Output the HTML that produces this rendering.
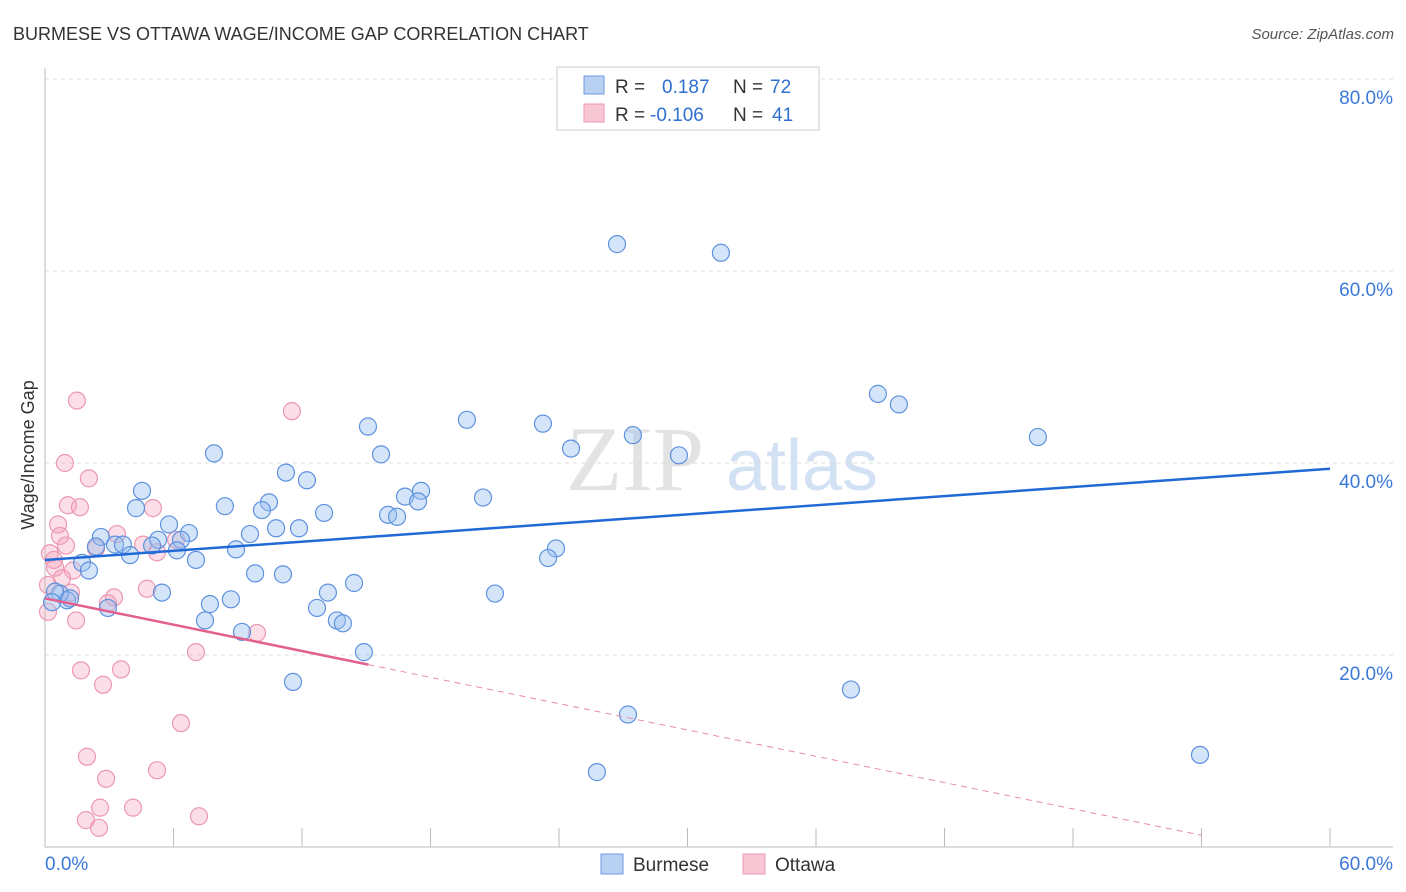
<!DOCTYPE html>
<html><head><meta charset="utf-8"><style>
body{margin:0;background:#fff;font-family:"Liberation Sans",sans-serif}
svg{display:block}
</style></head><body>
<svg id="chart" width="1406" height="892">
<text x="13" y="40" font-size="18" fill="#333">BURMESE VS OTTAWA WAGE/INCOME GAP CORRELATION CHART</text>
<text x="1394" y="39" font-size="15" fill="#555" font-style="italic" text-anchor="end">Source: ZipAtlas.com</text>
<g>
<text x="635" y="490" font-size="92" fill="#ddd" font-family="Liberation Serif,serif" text-anchor="middle" opacity="0.8">ZIP</text>
<text x="802" y="490" font-size="72" fill="#c9daf2" text-anchor="middle" opacity="0.8">atlas</text>
</g>
<g id="grid"></g>
<g id="axes"></g>
<g id="marks"></g>
<text transform="translate(34,455) rotate(-90)" font-size="18" fill="#333" text-anchor="middle">Wage/Income Gap</text>
<g>
<rect x="557" y="67" width="262" height="63" fill="#fff" stroke="#ccc"/>
<rect x="584" y="76" width="20" height="18" fill="#b8d1f3" stroke="#6d9be0"/>
<rect x="584" y="104" width="20" height="18" fill="#f8c6d5" stroke="#ec9ab3"/>
<text x="615" y="93" font-size="19" fill="#333">R = <tspan fill="#2f6fd0" x="662">0.187</tspan><tspan x="733" fill="#333">N =</tspan><tspan x="770" fill="#2f6fd0">72</tspan></text>
<text x="615" y="121" font-size="19" fill="#333">R = <tspan fill="#2f6fd0" x="650">-0.106</tspan><tspan x="733" fill="#333">N =</tspan><tspan x="772" fill="#2f6fd0">41</tspan></text>
</g>
<g>
<rect x="601" y="854" width="22" height="20" fill="#b8d1f3" stroke="#6d9be0"/>
<text x="633" y="871" font-size="19" fill="#333">Burmese</text>
<rect x="743" y="854" width="22" height="20" fill="#f8c6d5" stroke="#ec9ab3"/>
<text x="775" y="871" font-size="19" fill="#333">Ottawa</text>
</g>
</svg>
<script>
const yTicks=[20,40,60,80];
const xTickLabels=["0.0%","60.0%"];
const blueX=[26.71,31.56,38.89,39.87,46.36,19.70,23.25,15.08,27.45,24.56,29.60,7.89,15.69,11.25,12.23,4.53,17.56,16.81,20.45,17.42,10.46,8.40,4.25,10.13,16.02,13.03,16.44,5.79,10.79,11.86,9.57,6.72,2.61,6.35,5.28,5.00,3.27,3.64,8.92,6.16,23.86,2.38,3.97,23.49,7.05,1.73,2.05,9.81,11.11,14.43,5.46,13.21,21.01,8.68,7.70,12.70,2.94,1.03,0.70,0.47,0.33,7.47,13.63,13.91,9.20,14.89,11.58,37.63,27.22,25.77,53.93,1.17];
const blueY=[62.8,61.9,47.2,46.1,42.7,44.5,44.1,43.8,42.9,41.5,40.8,41.0,40.9,39.0,38.2,37.1,37.1,36.5,36.4,36.0,35.9,35.5,35.3,35.1,34.6,34.8,34.4,33.6,33.2,33.2,32.6,32.7,32.3,32.0,32.0,31.4,31.5,31.5,31.0,30.9,31.1,31.3,30.4,30.1,29.9,29.6,28.8,28.5,28.4,27.5,26.5,26.5,26.4,25.8,25.3,24.9,24.9,25.7,26.4,26.6,25.5,23.6,23.6,23.3,22.4,20.3,17.2,16.4,13.8,7.8,9.6,25.9];
const pinkX=[1.49,11.53,0.93,2.05,1.07,1.63,5.04,0.61,0.70,3.36,0.98,0.23,2.38,4.58,5.23,6.12,0.42,0.47,1.31,0.79,4.76,3.22,1.21,2.94,1.45,0.14,7.05,1.68,3.55,2.71,6.35,1.96,2.85,5.23,2.57,4.11,1.91,2.52,7.19,9.90,0.14];
const pinkY=[46.5,45.4,40.0,38.4,35.6,35.4,35.3,33.6,32.4,32.6,31.4,30.6,31.1,31.5,30.7,32.0,29.9,29.1,28.8,28.0,26.9,26.0,26.5,25.4,23.6,24.5,20.3,18.4,18.5,16.9,12.9,9.4,7.1,8.0,4.1,4.1,2.8,2.0,3.2,22.3,27.3];
const blueTrend=[29.9,39.4];
const pinkTrend=[25.9,-0.457];
const NS="http://www.w3.org/2000/svg";
const sx=v=>45+v*1285/60, sy=v=>847-v*9.6;
function mk(tag,attrs,parent){const e=document.createElementNS(NS,tag);for(const k in attrs)e.setAttribute(k,attrs[k]);parent.appendChild(e);return e;}
const grid=document.getElementById('grid'),axes=document.getElementById('axes'),marks=document.getElementById('marks');
yTicks.forEach(t=>{
 const l=mk('line',{x1:45,x2:1393,y1:sy(t),y2:sy(t),stroke:'#ddd','stroke-dasharray':'4,4'},grid);
 
 
 const tx=mk('text',{x:1393,y:sy(t)+25,'font-size':19,fill:'#3b78d8','text-anchor':'end'},axes);
 tx.textContent=t.toFixed(1)+'%';
 
 
});
const ax=mk('line',{x1:45,x2:1393,y1:847,y2:847,stroke:'#bbb'},axes);


const ay=mk('line',{x1:45,x2:45,y1:68,y2:847,stroke:'#bbb'},axes);


for(let i=0;i<=10;i++){const tk=mk('line',{x1:sx(i*6),x2:sx(i*6),y1:828,y2:847,stroke:'#bbb'},axes);
 
 }
[[0,'start',45],[60,'end',1393]].forEach((p,i)=>{const t=mk('text',{x:p[2],y:870,'font-size':19,fill:'#3b78d8','text-anchor':p[1]},axes);t.textContent=xTickLabels[i];
 
 });
pinkX.forEach((x,i)=>{const c=mk('circle',{cx:sx(x),cy:sy(pinkY[i]),r:8.5,fill:'rgba(244,160,186,0.35)',stroke:'#ec98b1','stroke-width':1.2},marks);
 
 });
blueX.forEach((x,i)=>{const c=mk('circle',{cx:sx(x),cy:sy(blueY[i]),r:8.5,fill:'rgba(150,190,240,0.4)',stroke:'#5e92de','stroke-width':1.2},marks);
 
 });
const bt=mk('line',{x1:sx(0),y1:sy(blueTrend[0]),x2:sx(60),y2:sy(blueTrend[1]),stroke:'#1f6ad6','stroke-width':2.5},marks);


const pf=x=>pinkTrend[0]+pinkTrend[1]*x;
const pt=mk('line',{x1:sx(0),y1:sy(pf(0)),x2:sx(15.1),y2:sy(pf(15.1)),stroke:'#e2608d','stroke-width':2.5},marks);


const pd=mk('line',{x1:sx(15.1),y1:sy(pf(15.1)),x2:sx(54),y2:sy(pf(54)),stroke:'#e98aa9','stroke-width':1,'stroke-dasharray':'6,5'},marks);


</script>
</body></html>
